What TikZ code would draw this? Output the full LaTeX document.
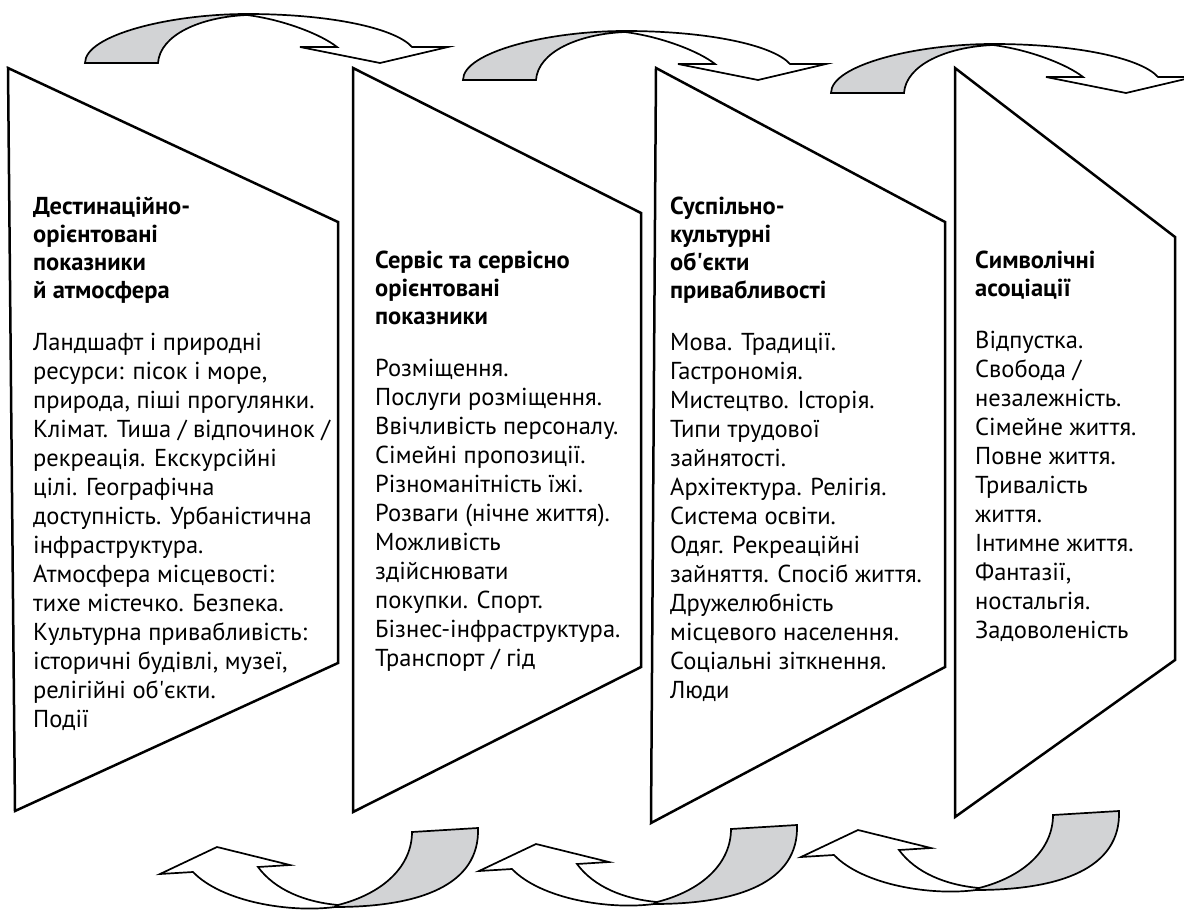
\documentclass[tikz,border=0pt]{standalone}
\usepackage{fontspec}
\setmainfont{PT Sans}
\definecolor{ribbongray}{HTML}{D2D3D5}
\tikzset{
	panel/.style={draw, line width=2.5pt, line join=miter},
	ribbon/.style={draw, line width=1.7pt, line join=miter, fill=white},
	ribbonback/.style={ribbon, fill=ribbongray},
	headtext/.style={anchor=north west, inner sep=0pt, align=left, font=\fontsize{24.5}{28}\selectfont\bfseries},
	bodytext/.style={anchor=north west, inner sep=0pt, align=left, font=\fontsize{24.5}{29}\selectfont},
}
\begin{document}
\begin{tikzpicture}[x=1pt, y=-1pt]
	\useasboundingbox (0,0) rectangle (1184,910);
	\draw[panel] (8,68) -- (338,222) -- (338,663) -- (15,811) -- cycle;
	\draw[panel] (353,68) -- (641,213) -- (641,667) -- (353,812) -- cycle;
	\draw[panel] (656,68) -- (945,222) -- (945,667) -- (651,823) -- cycle;
	\draw[panel] (955,68) -- (1175,237) -- (1175,660) -- (955,817) -- cycle;
	\foreach \dx/\dy in {0/0, 378/17, 746/30}{
		\begin{scope}[shift={(\dx,\dy)}]
			\draw[ribbonback] (85,63) .. controls (85,35) and (170,14) .. (247,14) -- (247,15) .. controls (200,17) and (160,35) .. (158,63) -- cycle;
			\draw[ribbon] (247,14) .. controls (330,14) and (395,28) .. (412,47) -- (448,47) -- (380,63) -- (300,47) -- (337,47) .. controls (322,35) and (285,20) .. (247,15) -- cycle;
		\end{scope}
	}
	\foreach \dx/\dy in {0/0, 319/-3, 641/-17}{
		\begin{scope}[shift={(\dx,\dy)}]
			\draw[ribbonback] (478,828) .. controls (480,885) and (420,907) .. (335,907) -- (338,905) .. controls (385,893) and (412,865) .. (412,832) -- cycle;
			\draw[ribbon] (335,907) .. controls (290,913) and (222,902) .. (193,872) -- (160,874) -- (217,847) -- (290,865) -- (258,867) .. controls (275,890) and (305,902) .. (338,905) -- cycle;
		\end{scope}
	}
	\node[headtext] (head1) at (33,195) {\strut Дестинаційно-\\орієнтовані\\показники\\й атмосфера};
	\node[bodytext] (body1) at (33,330) {\strut Ландшафт і природні\\ресурси: пісок і море,\\природа, піші прогулянки.\\Клімат. Тиша / відпочинок /\\рекреація. Екскурсійні\\цілі. Географічна\\доступність. Урбаністична\\інфраструктура.\\Атмосфера місцевості:\\тихе містечко. Безпека.\\Культурна привабливість:\\історичні будівлі, музеї,\\релігійні об\textquotesingle єкти.\\Події};
	\node[headtext] (head2) at (375,249) {\strut Сервіс та сервісно\\орієнтовані\\показники};
	\node[bodytext] (body2) at (375,356) {\strut Розміщення.\\Послуги розміщення.\\Ввічливість персоналу.\\Сімейні пропозиції.\\Різноманітність їжі.\\Розваги (нічне життя).\\Можливість\\здійснювати\\покупки. Спорт.\\Бізнес-інфраструктура.\\Транспорт / гід};
	\node[headtext] (head3) at (670,195) {\strut Суспільно-\\культурні\\об\textquotesingle єкти\\привабливості};
	\node[bodytext] (body3) at (670,330) {\strut Мова. Традиції.\\Гастрономія.\\Мистецтво. Історія.\\Типи трудової\\зайнятості.\\Архітектура. Релігія.\\Система освіти.\\Одяг. Рекреаційні\\зайняття. Спосіб життя.\\Дружелюбність\\місцевого населення.\\Соціальні зіткнення.\\Люди};
	\node[headtext] (head4) at (975,249) {\strut Символічні\\асоціації};
	\node[bodytext] (body4) at (975,328) {\strut Відпустка.\\Свобода /\\незалежність.\\Сімейне життя.\\Повне життя.\\Тривалість\\життя.\\Інтимне життя.\\Фантазії,\\ностальгія.\\Задоволеність};
\end{tikzpicture}
\end{document}
